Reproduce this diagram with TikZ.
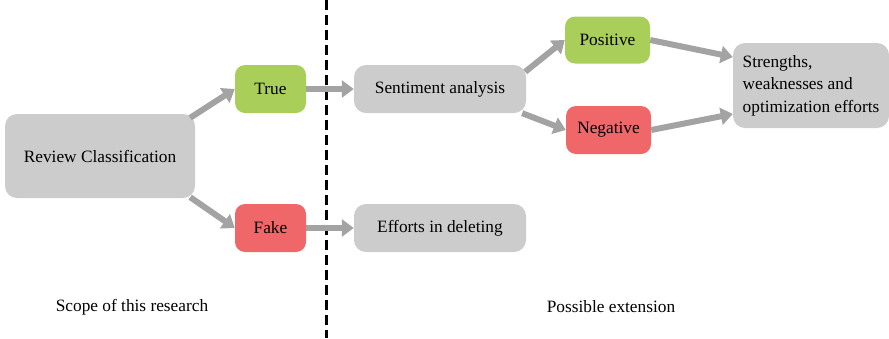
\documentclass[tikz,border=0pt]{standalone}
\usepackage{fontspec}
\setmainfont{Liberation Serif}
\usetikzlibrary{arrows.meta, positioning, calc}

\definecolor{boxgrey}{HTML}{CCCCCC}
\definecolor{okgreen}{HTML}{A9CF5A}
\definecolor{badred}{HTML}{F0676A}
\definecolor{flowgrey}{HTML}{A3A3A3}

\begin{document}
\begin{tikzpicture}[
    x=1pt, y=-1pt,
    font=\fontsize{17.3}{22.5}\selectfont,
    proc/.style={rectangle, rounded corners=12pt, fill=boxgrey, inner sep=0pt,
                 minimum height=48pt, minimum width=172pt},
    yes/.style={rectangle, rounded corners=10pt, fill=okgreen, inner sep=0pt,
                minimum height=48pt},
    no/.style={rectangle, rounded corners=10pt, fill=badred, inner sep=0pt,
               minimum height=48pt},
    flow/.style={-{Triangle[length=12pt, width=17pt]}, line width=6pt, draw=flowgrey},
]
\useasboundingbox (0, 0) rectangle (889, 338);

% ============================================================
% SCOPE OF THIS RESEARCH
% ============================================================
\node[proc, minimum width=190pt, minimum height=84pt] (rev) at (100, 156)
    {Review Classification};
\node[yes, minimum width=71pt] (true) at (270.5, 89) {True};
\node[no, minimum width=71pt] (fake) at (270.5, 228) {Fake};

\draw[flow] ([xshift=-5pt, yshift=-4pt]rev.north east) -- (true.west);
\draw[flow] ([xshift=-5pt, yshift=1pt]rev.south east) -- (fake.west);

\node (scope) at (132, 307) {Scope of this research};

% Separator
\coordinate (septop) at (326, 0);
\coordinate (sepbot) at (326, 338);
\draw[line width=3pt, dash pattern=on 10pt off 5pt] (septop) -- (sepbot);

% ============================================================
% POSSIBLE EXTENSION
% ============================================================
\node[proc] (sent) at (440, 89) {Sentiment analysis};
\node[proc] (del) at (440, 228) {Efforts in deleting};

\draw[flow] (true.east) -- (sent.west);
\draw[flow] (fake.east) -- (del.west);

\node[yes, minimum width=85pt, minimum height=47pt] (pos) at (607.5, 40) {Positive};
\node[no, minimum width=85pt] (neg) at (608.5, 130) {Negative};

\node[proc, minimum width=156pt, minimum height=85pt, align=left] (str)
    at (811, 85.5) {Strengths,\\weaknesses and\\optimization efforts};

\draw[flow] ([xshift=-1pt, yshift=-7pt]sent.north east) -- (pos.west);
\draw[flow] ([xshift=-4pt]sent.south east) -- (neg.west);
\draw[flow] (pos.east) -- (str.160);
\draw[flow] (neg.east) -- (str.200);

\node (ext) at (611, 307) {Possible extension};

\end{tikzpicture}
\end{document}
